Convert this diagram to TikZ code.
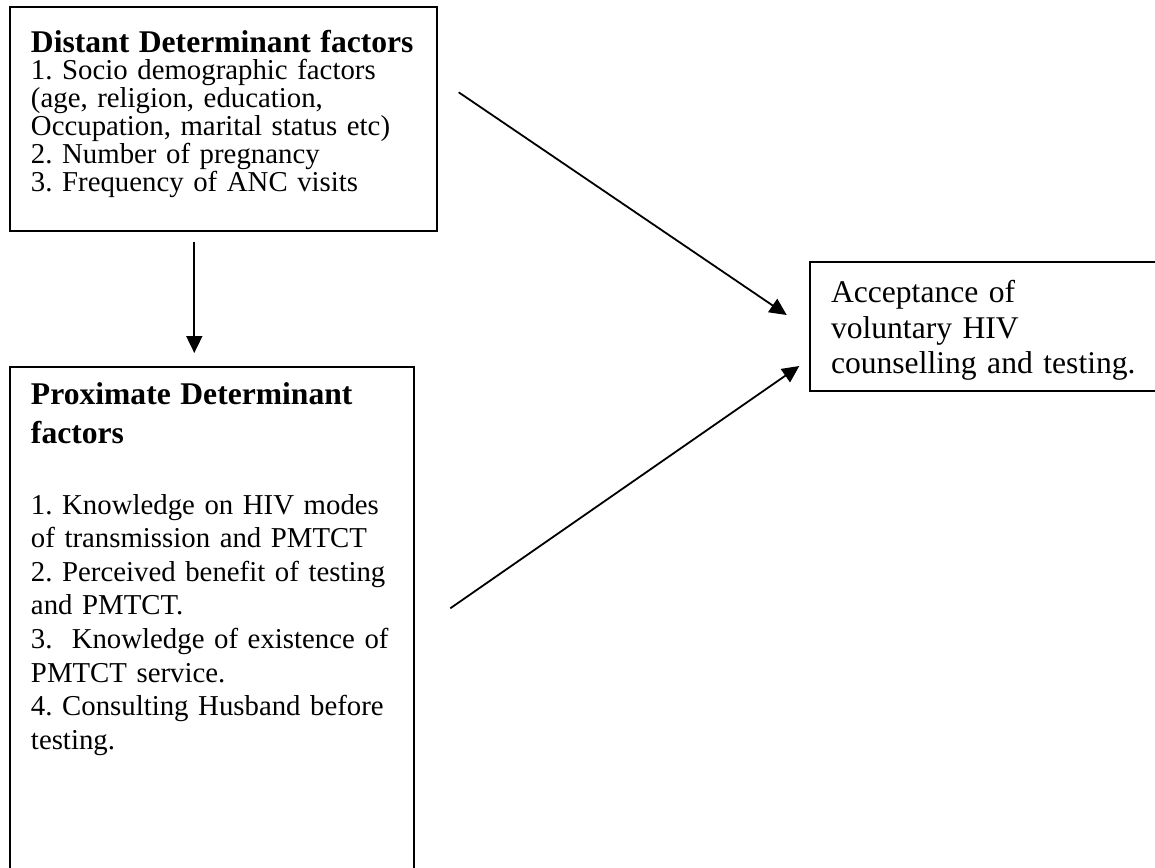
\documentclass[tikz,border=0pt]{standalone}
\usepackage{fontspec}
\setmainfont{Liberation Serif}
\usetikzlibrary{positioning,calc,arrows.meta}
\frenchspacing

\tikzset{
  factorbox/.style={draw,line width=1pt,anchor=north west,align=left,inner xsep=10.5pt},
  flow/.style={-{Triangle[length=8.5pt,width=8pt]},line width=0.9pt},
}

\begin{document}
\begin{tikzpicture}[x=0.5pt,y=-0.5pt]
    \useasboundingbox (0,0) rectangle (1155,867);
    \clip (0,0) rectangle (1155,867);

    % Distant factors
    \node[factorbox,text width=192.5pt,inner ysep=11.5pt,text height=11pt,text depth=78pt,font=\fontsize{14.4}{13.9}\selectfont] (distant) at (9,6)
        {{\fontsize{15.8}{13.9}\selectfont\bfseries Distant Determinant factors}\\
         1. Socio demographic factors\\
         (age, religion, education,\\
         Occupation, marital status etc)\\
         2. Number of pregnancy\\
         3. Frequency of ANC visits};

    % Proximate factors
    \node[factorbox,text width=181pt,inner ysep=7.5pt,text height=11pt,text depth=300pt,font=\fontsize{14.4}{16.8}\selectfont] (proximate) at (9,366)
        {{\fontsize{15.8}{16.8}\selectfont\bfseries Proximate Determinant\\[2.7pt] factors}\\[18.7pt]
         1. Knowledge on HIV modes\\
         of transmission and PMTCT\\
         2. Perceived benefit of testing\\
         and PMTCT.\\
         3.~ Knowledge of existence of\\
         PMTCT service.\\
         4. Consulting Husband before\\
         testing.};

    % Outcome
    \node[factorbox,text width=170pt,inner ysep=9.55pt,text height=10.8pt,text depth=34.6pt,font=\fontsize{15.8}{17.8}\selectfont] (accept) at (809,261)
        {Acceptance of\\
         voluntary HIV\\
         counselling and testing.};

    % Arrows
    \draw[flow] ($(distant.south)+(-29.2,10)$) -- ($(distant.south |- proximate.north)+(-29.2,-13)$);
    \draw[flow] ($(distant.north east)+(20.7,86.3)$) -- ($(accept.north west)+(-22.3,54)$);
    \draw[flow] ($(proximate.north east)+(35.3,242.3)$) -- ($(accept.north west)+(-9.7,105)$);
\end{tikzpicture}
\end{document}
